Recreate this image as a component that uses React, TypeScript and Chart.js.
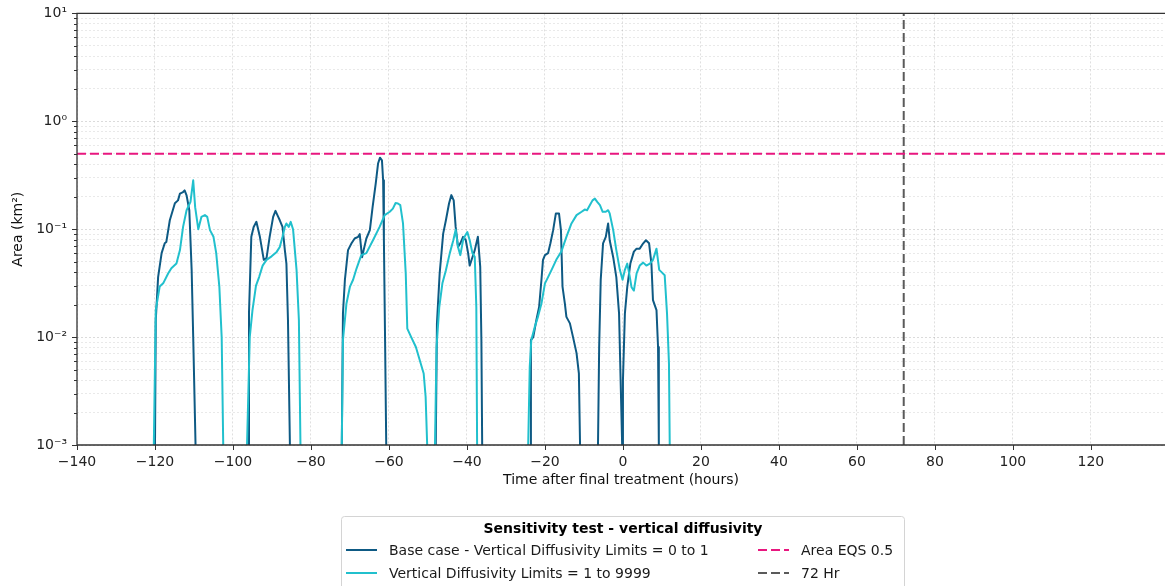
import React, { useEffect, useRef } from "react";
import { Chart, registerables } from "chart.js";

Chart.register(...registerables);

// ---------- data (hours after final treatment, area in km²; null = gap, 0 = no area) ----------
const baseHours = [
  -120.0, -119.8, -119.2, -118.3, -117.5, -117.1, -116.2, -114.9, -114.1, -113.6, -112.8, -112.4, -111.9, -111.2, -110.6, -110.2, -109.6,
  -103,
  -96.1, -95.9, -95.3, -94.7, -94.0, -93.1, -92.1, -91.4, -90.6, -89.7, -89.1, -88.4, -88.0, -87.3, -86.7, -86.3, -85.9, -85.4,
  -78,
  -72.1, -71.8, -71.3, -70.5, -69.6, -68.8, -67.9, -67.5, -66.9, -66.5, -65.8, -64.9, -64.2, -63.4, -62.8, -62.3, -61.8, -61.5, -61.3, -61.0, -60.7,
  -54,
  -48.0, -47.7, -47.0, -46.1, -45.4, -44.6, -44.0, -43.4, -42.9, -42.3, -41.7, -41.0, -40.3, -39.7, -39.3, -38.6, -38.0, -37.2, -36.6, -36.3, -36.1,
  -30,
  -23.8, -23.6, -23.0, -22.2, -21.5, -20.9, -20.5, -20.0, -19.2, -18.6, -17.9, -17.2, -16.4, -15.9, -15.5, -14.9, -14.5, -13.6, -12.8, -11.9, -11.3, -11.0,
  -8.5,
  -6.4, -6.1, -5.7, -5.1, -4.4, -3.8, -3.4, -2.5, -1.7, -1.0, -0.6, -0.2, 0.0, 0.5, 1.1, 1.9, 2.8, 3.5, 4.3, 5.2, 5.9, 6.7, 7.3, 7.7, 8.6, 9.0, 9.2,
];
const baseArea = [
  0, 0.0144, 0.036, 0.06, 0.074, 0.076, 0.121, 0.174, 0.185, 0.214, 0.221, 0.229, 0.206, 0.15, 0.042, 0.01, 0,
  null,
  0, 0.0166, 0.085, 0.105, 0.117, 0.085, 0.052, 0.054, 0.085, 0.13, 0.148, 0.13, 0.121, 0.105, 0.064, 0.048, 0.0144, 0,
  null,
  0, 0.0166, 0.034, 0.064, 0.074, 0.082, 0.085, 0.09, 0.055, 0.064, 0.082, 0.098, 0.16, 0.265, 0.406, 0.46, 0.435, 0.284, 0.079, 0.0094, 0,
  null,
  0, 0.0134, 0.039, 0.091, 0.121, 0.173, 0.207, 0.185, 0.105, 0.0685, 0.074, 0.085, 0.079, 0.06, 0.046, 0.055, 0.064, 0.085, 0.045, 0.0094, 0,
  null,
  0, 0.0094, 0.01, 0.0144, 0.019, 0.034, 0.052, 0.0575, 0.06, 0.074, 0.098, 0.14, 0.14, 0.098, 0.0294, 0.0205, 0.0154, 0.0134, 0.01, 0.0071, 0.0046, 0,
  null,
  0, 0.0081, 0.034, 0.074, 0.085, 0.113, 0.079, 0.055, 0.036, 0.0166, 0.004, 0, 0.004, 0.0166, 0.029, 0.048, 0.062, 0.066, 0.066, 0.074, 0.079, 0.074, 0.048, 0.022, 0.0178, 0.0081, 0,
];

const vdHours = [
  -120.3, -119.8, -118.8, -117.9, -116.6, -115.8, -114.5, -113.6, -112.8, -111.9, -110.9, -110.2, -109.7, -108.9, -108.1, -107.2, -106.6, -105.9, -105.0, -104.3, -103.5, -102.9, -102.5,
  -99,
  -96.4, -95.7, -95.0, -94.1, -93.3, -92.4, -91.4, -90.1, -88.8, -88.0, -87.3, -86.7, -86.3, -85.7, -85.2, -84.6, -83.7, -83.1, -82.7,
  -77,
  -72.1, -71.8, -70.9, -70.0, -69.2, -68.3, -67.1, -65.8, -64.1, -62.4, -61.1, -59.8, -59.0, -58.3, -57.7, -57.1, -56.4, -55.7, -55.3, -54.3, -53.1, -52.1, -51.1, -50.6, -50.2,
  -49,
  -48.2, -47.8, -47.1, -46.3, -45.4, -44.4, -43.5, -42.9, -42.3, -41.7, -41.0, -40.4, -39.9, -39.3, -38.6, -38.0, -37.6, -37.4,
  -30,
  -24.3, -23.9, -23.5, -22.6, -21.8, -20.9, -20.0, -19.2, -18.3, -17.1, -15.8, -14.5, -13.2, -11.9, -10.6, -9.8, -9.2, -8.5, -7.8, -7.2, -6.6, -5.9, -5.2, -4.4, -3.8, -3.4, -2.5, -1.7, -0.8, -0.1,
  0.5, 1.1, 1.6, 2.2, 2.8, 3.5, 4.3, 5.2, 6.0, 6.9, 7.7, 8.6, 9.3, 9.9, 10.7, 11.3, 11.8, 12.0,
];
const vdArea = [
  0, 0.0178, 0.0294, 0.0315, 0.039, 0.0434, 0.048, 0.064, 0.105, 0.15, 0.179, 0.284, 0.16, 0.1, 0.13, 0.135, 0.13, 0.098, 0.085, 0.06, 0.0294, 0.01, 0,
  null,
  0, 0.01, 0.0178, 0.03, 0.036, 0.046, 0.052, 0.056, 0.0616, 0.0685, 0.085, 0.105, 0.113, 0.105, 0.117, 0.1, 0.042, 0.0144, 0,
  null,
  0, 0.0094, 0.0205, 0.0294, 0.034, 0.0434, 0.0575, 0.06, 0.079, 0.105, 0.135, 0.145, 0.155, 0.175, 0.173, 0.167, 0.113, 0.039, 0.012, 0.01, 0.0081, 0.0061, 0.0046, 0.0028, 0,
  null,
  0, 0.0081, 0.019, 0.0315, 0.0417, 0.06, 0.079, 0.099, 0.0685, 0.0575, 0.079, 0.088, 0.094, 0.079, 0.06, 0.0556, 0.019, 0,
  null,
  0, 0.0053, 0.0094, 0.0125, 0.0154, 0.0205, 0.0315, 0.036, 0.042, 0.052, 0.062, 0.085, 0.113, 0.135, 0.145, 0.152, 0.15, 0.167, 0.185, 0.192, 0.179, 0.167, 0.145, 0.145, 0.15, 0.14, 0.098, 0.064, 0.042, 0.034,
  0.042, 0.048, 0.039, 0.029, 0.027, 0.039, 0.046, 0.049, 0.046, 0.048, 0.052, 0.066, 0.042, 0.04, 0.0375, 0.0166, 0.0057, 0,
];

const eqsArea = 0.5;
const hrLineHour = 72;

const xTicks = [-140, -120, -100, -80, -60, -40, -20, 0, 20, 40, 60, 80, 100, 120];
const yMajorTicks = [0.001, 0.01, 0.1, 1, 10];
const yTickLabels = ["10⁻³", "10⁻²", "10⁻¹", "10⁰", "10¹"];

const X_MIN = -140;
const X_MAX = 139;
const Y_MIN = 0.001;
const Y_MAX = 10;

const labels = {
  base: "Base case - Vertical Diffusivity Limits = 0 to 1",
  vd: "Vertical Diffusivity Limits = 1 to 9999",
  eqs: "Area EQS 0.5",
  hr: "72 Hr",
};
const legendTitle = "Sensitivity test - vertical diffusivity";
const xTitle = "Time after final treatment (hours)";
const yTitle = "Area (km²)";

const FONT = '"DejaVu Sans", "Liberation Sans", sans-serif';

// ---------- helpers ----------
const toPoints = (hours: number[], area: (number | null)[]) =>
  hours.map((h, i) => ({ x: h, y: area[i] === null ? null : area[i] === 0 ? Y_MIN : area[i] }));

const yAllTicks: number[] = (() => {
  const out: number[] = [];
  for (let d = 0; d < yMajorTicks.length - 1; d++) {
    for (let m = 1; m <= 9; m++) out.push(+(yMajorTicks[d] * m).toPrecision(6));
  }
  out.push(yMajorTicks[yMajorTicks.length - 1]);
  return out;
})();
const isMajor = (v: number) => yMajorTicks.some((t) => Math.abs(t - v) / t < 1e-6);

const decorPlugin = {
  id: "decor",
  afterDatasetsDraw(chart: any) {
    const { ctx, chartArea: a, scales } = chart;
    ctx.save();
    // spines
    ctx.strokeStyle = "#333333";
    ctx.lineWidth = 1.3;
    ctx.beginPath();
    ctx.moveTo(a.right + 2, a.top);
    ctx.lineTo(a.left, a.top);
    ctx.lineTo(a.left, a.bottom);
    ctx.lineTo(a.right + 2, a.bottom);
    ctx.stroke();
    // tick marks
    ctx.lineWidth = 1;
    ctx.beginPath();
    xTicks.forEach((v) => {
      const x = Math.round(scales.x.getPixelForValue(v)) + 0.5;
      ctx.moveTo(x, a.bottom);
      ctx.lineTo(x, a.bottom + 5);
    });
    yAllTicks.forEach((v) => {
      const y = Math.round(scales.y.getPixelForValue(v)) + 0.5;
      const len = isMajor(v) ? 5 : 3;
      ctx.moveTo(a.left - len, y);
      ctx.lineTo(a.left, y);
    });
    ctx.stroke();
    ctx.restore();
  },
  afterDraw(chart: any) {
    const { ctx } = chart;
    const ds = chart.data.datasets;
    ctx.save();
    // legend box
    const bx = 341.5, by = 516.5, bw = 563, bh = 80;
    ctx.beginPath();
    (ctx as any).roundRect(bx, by, bw, bh, 3);
    ctx.fillStyle = "rgba(255,255,255,0.85)";
    ctx.fill();
    ctx.strokeStyle = "#d4d4d4";
    ctx.lineWidth = 1;
    ctx.stroke();
    // title
    ctx.fillStyle = "#000";
    ctx.textBaseline = "middle";
    ctx.textAlign = "center";
    ctx.font = `bold 14px ${FONT}`;
    ctx.fillText(legendTitle, bx + bw / 2, 529);
    // entries: column-major like the reference
    const cols = [
      { lineX: 346, textX: 389, idx: [0, 1] },
      { lineX: 758, textX: 801, idx: [2, 3] },
    ];
    const rows = [550, 573];
    ctx.font = `14px ${FONT}`;
    ctx.textAlign = "left";
    cols.forEach((c) => {
      c.idx.forEach((di, r) => {
        const d = ds[di];
        const y = rows[r];
        ctx.save();
        ctx.strokeStyle = d.borderColor;
        ctx.lineWidth = 2;
        ctx.setLineDash(d.borderDash || []);
        ctx.beginPath();
        ctx.moveTo(c.lineX, y);
        ctx.lineTo(c.lineX + 31, y);
        ctx.stroke();
        ctx.restore();
        ctx.fillStyle = "#1a1a1a";
        ctx.fillText(d.label, c.textX, y + 1);
      });
    });
    ctx.restore();
  },
};

export default function App() {
  const ref = useRef<HTMLCanvasElement | null>(null);

  useEffect(() => {
    document.body.style.margin = "0";
    if (!ref.current) return;
    const chart = new Chart(ref.current, {
      type: "line",
      data: {
        datasets: [
          {
            label: labels.base,
            data: toPoints(baseHours, baseArea),
            borderColor: "#0e5a84",
            borderWidth: 2,
            pointRadius: 0,
            spanGaps: false,
            borderJoinStyle: "round",
            order: 3,
          },
          {
            label: labels.vd,
            data: toPoints(vdHours, vdArea),
            borderColor: "#21c0cd",
            borderWidth: 2,
            pointRadius: 0,
            spanGaps: false,
            borderJoinStyle: "round",
            order: 2,
          },
          {
            label: labels.eqs,
            data: [
              { x: X_MIN, y: eqsArea },
              { x: X_MAX + 1, y: eqsArea },
            ],
            borderColor: "#e8177f",
            borderWidth: 2,
            borderDash: [9, 4],
            pointRadius: 0,
            order: 1,
          },
          {
            label: labels.hr,
            data: [
              { x: hrLineHour, y: Y_MIN },
              { x: hrLineHour, y: Y_MAX },
            ],
            borderColor: "#5a5a5a",
            borderWidth: 2,
            borderDash: [9, 4],
            pointRadius: 0,
            order: 1,
          },
        ] as any,
      },
      options: {
        animation: false,
        responsive: false,
        devicePixelRatio: 1,
        layout: { padding: { top: 13, right: 0, left: 0, bottom: 93 } },
        plugins: { legend: { display: false }, tooltip: { enabled: false } },
        scales: {
          x: {
            type: "linear",
            min: X_MIN,
            max: X_MAX,
            afterBuildTicks: (s: any) => {
              s.ticks = xTicks.map((v) => ({ value: v }));
            },
            afterFit: (s: any) => {
              s.height = 48;
            },
            ticks: {
              autoSkip: false,
              maxRotation: 0,
              padding: 4,
              color: "#222",
              font: { family: FONT, size: 14 },
              callback: (v: any) => (Number(v) < 0 ? "−" + Math.abs(Number(v)) : String(v)),
            },
            grid: {
              color: "rgba(0,0,0,0.16)",
              lineWidth: 0.8,
              tickLength: 5,
              tickColor: "rgba(0,0,0,0)",
            },
            border: { display: false, dash: [2, 2] },
            title: {
              display: true,
              text: xTitle,
              color: "#111",
              font: { family: FONT, size: 14 },
              padding: { top: 0, bottom: 4 },
            },
          },
          y: {
            type: "logarithmic",
            min: Y_MIN,
            max: Y_MAX,
            afterBuildTicks: (s: any) => {
              s.ticks = yAllTicks.map((v) => ({ value: v, major: isMajor(v) }));
            },
            afterFit: (s: any) => {
              s.width = 77;
            },
            ticks: {
              autoSkip: false,
              padding: 5,
              color: "#222",
              font: { family: FONT, size: 14 },
              callback: (v: any) => {
                const i = yMajorTicks.findIndex((t) => Math.abs(t - Number(v)) / t < 1e-6);
                return i >= 0 ? yTickLabels[i] : "";
              },
            },
            grid: {
              color: (c: any) => (c.tick && isMajor(c.tick.value) ? "rgba(0,0,0,0.18)" : "rgba(0,0,0,0.11)"),
              lineWidth: 0.8,
              tickLength: 5,
              tickColor: "rgba(0,0,0,0)",
            },
            border: { display: false, dash: [2, 2] },
            title: {
              display: true,
              text: yTitle,
              color: "#111",
              font: { family: FONT, size: 14 },
              padding: { top: 10, bottom: 0 },
            },
          },
        },
      } as any,
      plugins: [decorPlugin as any],
    });
    return () => chart.destroy();
  }, []);

  return (
    <div style={{ width: 1165, height: 586, background: "#fff" }}>
      <canvas ref={ref} width={1165} height={586} style={{ display: "block" }} />
    </div>
  );
}
